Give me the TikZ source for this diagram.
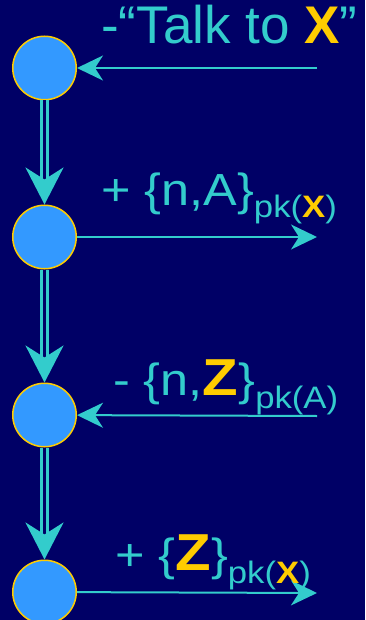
\documentclass[tikz,border=0pt]{standalone}
\usepackage{fontspec}
\usepackage{graphicx}
\setmainfont{Liberation Sans}
\usetikzlibrary{arrows.meta}
\definecolor{SlideNavy}{HTML}{000066}
\definecolor{MsgCyan}{HTML}{33CCCC}
\definecolor{NodeBlue}{HTML}{3399FF}
\definecolor{KeyGold}{HTML}{FFCC00}
\newcommand{\gold}[1]{\textcolor{KeyGold}{\textbf{#1}}}
\newcommand{\fsz}[1]{\fontsize{#1}{#1}\selectfont}
\newcommand{\pk}[1]{\raisebox{-13pt}{\fsz{31}pk(#1)}}
\newcommand{\wide}[1]{\scalebox{1.12}[1]{#1}}

\begin{document}
\begin{tikzpicture}[x=1pt,y=-1pt,
    every node/.style={text=MsgCyan,inner sep=0pt},
    ev/.style={circle,draw=KeyGold,line width=1.5pt,fill=NodeBlue,
      minimum size=63.5pt},
    lbl/.style={anchor=base west,font=\fsz{45}},
    ar/.style={-{Stealth[length=26pt,width=25pt,inset=8pt]},MsgCyan,line width=2pt},
    dar/.style={-{Stealth[length=37pt,width=38pt,inset=12pt]},draw=MsgCyan,
      double=SlideNavy,double distance=3pt,line width=3pt}]
  \useasboundingbox (0,0) rectangle (365,620);
  \fill[SlideNavy] (0,0) rectangle (365,620);

  % strand events
  \node[ev] (s1) at (44.5,68) {};
  \node[ev] (s2) at (44.5,237) {};
  \node[ev] (s3) at (44.5,415) {};
  \node[ev] (s4) at (44.5,592) {};

  % free ends of the messages
  \coordinate (e1) at (317,68);
  \coordinate (e2) at (317,237);
  \coordinate (e3) at (317,416);
  \coordinate (e4) at (317,593);

  \draw[dar] (s1) -- (s2);
  \draw[dar] (s2) -- (s3);
  \draw[dar] (s3) -- (s4);

  \draw[ar] (e1) -- (s1);
  \draw[ar] (s2) -- (e2);
  \draw[ar] (e3) -- (s3);
  \draw[ar] (s4) -- (e4);

  % message terms
  \node[lbl,font=\fsz{53}] (m1) at (101,44) {-“Talk to \gold{X}”};
  \node[lbl] (m2) at (101,205) {\wide{+ \{n,A\}\pk{\gold{X}}}};
  \node[lbl] (m3) at (113,395) {\wide{- \{n,\gold{\fsz{52}Z}\}\pk{A}}};
  \node[lbl] (m4) at (115,570) {\wide{+ \{\gold{\fsz{52}Z}\}\pk{\gold{X}}}};
\end{tikzpicture}
\end{document}
